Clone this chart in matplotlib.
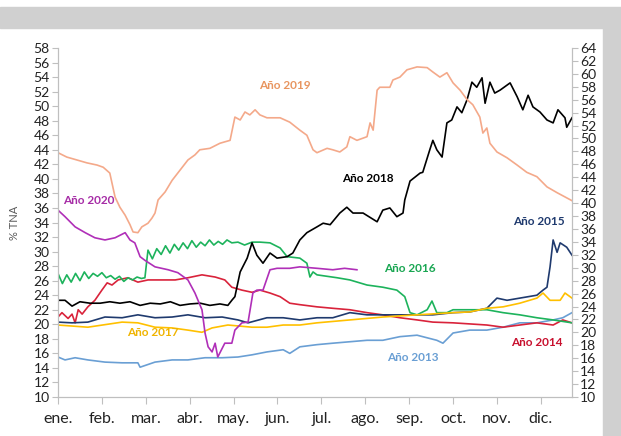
import numpy as np
import matplotlib.pyplot as plt
from matplotlib.patches import Rectangle

plt.rcParams['font.family'] = ['Lato', 'DejaVu Sans']

months = ['ene.', 'feb.', 'mar.', 'abr.', 'may.', 'jun.', 'jul.',
          'ago.', 'sep.', 'oct.', 'nov.', 'dic.']

# x in months since 1 Jan, y in % TNA (read on the left scale)
x13 = [0, 0.16, 0.39, 0.68, 1.07, 1.46, 1.82, 1.87, 2.21, 2.6, 2.96, 3.35, 3.74, 4.1, 4.42, 4.76,
       5.13, 5.28, 5.51, 5.9, 6.26, 6.65, 7.04, 7.4, 7.79, 8.18, 8.63, 8.77, 9.0, 9.38, 9.77,
       10.14, 10.52, 10.91, 11.28, 11.5, 11.71]
y13 = [15.5, 15.1, 15.4, 15.1, 14.8, 14.7, 14.7, 14.1, 14.8, 15.1, 15.1, 15.4, 15.4, 15.5, 15.8, 16.2,
       16.5, 16.0, 16.9, 17.2, 17.4, 17.6, 17.8, 17.8, 18.3, 18.5, 17.8, 17.4, 18.8, 19.2, 19.2,
       19.6, 20.2, 20.2, 20.6, 20.9, 21.6]

x14 = [0, 0.09, 0.23, 0.32, 0.39, 0.46, 0.55, 0.68, 0.84, 1.0, 1.12, 1.23, 1.37, 1.59, 1.82, 2.05,
       2.37, 2.67, 2.96, 3.28, 3.58, 3.8, 3.96, 4.19, 4.42, 4.6, 4.83, 5.06, 5.28, 5.51, 5.9,
       6.26, 6.65, 7.04, 7.4, 7.79, 8.18, 8.54, 9.0, 9.77, 10.14, 10.52, 10.91, 11.28, 11.5, 11.71]
y14 = [21.0, 21.6, 20.8, 21.4, 20.2, 22.0, 21.4, 22.4, 23.3, 24.7, 25.7, 25.4, 26.1, 26.4, 25.8, 26.1,
       26.1, 26.1, 26.4, 26.8, 26.5, 26.1, 25.1, 24.7, 24.4, 24.7, 24.3, 23.8, 22.9, 22.7, 22.4,
       22.2, 22.0, 21.6, 21.3, 20.9, 20.6, 20.3, 20.2, 19.9, 19.6, 19.9, 20.2, 19.9, 20.6, 20.2]

x15 = [0, 0.32, 0.68, 1.07, 1.46, 1.82, 2.21, 2.6, 2.96, 3.35, 3.74, 4.1, 4.33, 4.76, 5.13, 5.51,
       5.9, 6.26, 6.65, 7.04, 7.4, 7.79, 8.18, 8.54, 9.0, 9.38, 9.77, 10.0, 10.23, 10.52, 10.91,
       11.05, 11.14, 11.21, 11.28, 11.37, 11.44, 11.59, 11.71]
y15 = [20.3, 20.2, 20.3, 21.0, 20.9, 21.3, 20.9, 21.0, 21.3, 20.9, 21.0, 20.6, 20.2, 20.9, 20.9, 20.6,
       20.9, 20.9, 21.6, 21.3, 21.3, 21.3, 21.3, 21.3, 21.6, 21.7, 22.2, 23.6, 23.3, 23.6, 24.0,
       24.7, 25.1, 27.9, 31.6, 29.9, 31.2, 30.6, 29.5]

x16 = [0, 0.1, 0.2, 0.3, 0.4, 0.5, 0.6, 0.7, 0.8, 0.9, 1.0, 1.1, 1.2, 1.3, 1.4, 1.5,
       1.6, 1.7, 1.8, 1.9, 1.98, 2.05, 2.15, 2.25, 2.35, 2.45, 2.55, 2.65, 2.75, 2.85, 2.95,
       3.05, 3.15, 3.25, 3.35, 3.45, 3.55, 3.65, 3.75, 3.85, 3.96, 4.1, 4.25, 4.42, 4.6, 4.83,
       5.06, 5.22, 5.51, 5.67, 5.74, 5.81, 5.9, 6.13, 6.36, 6.65, 7.04, 7.4, 7.72, 7.9, 8.02,
       8.18, 8.41, 8.52, 8.63, 8.86, 9.0, 9.38, 9.77, 10.14, 10.52, 10.91, 11.28, 11.71]
y16 = [27.0, 25.6, 26.8, 25.8, 27.0, 26.0, 27.2, 26.3, 27.0, 26.6, 27.1, 26.4, 26.7, 26.2, 26.6, 25.9,
       26.4, 26.1, 26.5, 26.3, 26.4, 30.2, 29.0, 30.4, 29.6, 30.8, 29.8, 31.0, 30.2, 31.2, 30.4,
       31.5, 30.6, 31.3, 30.8, 31.6, 30.9, 31.4, 31.0, 31.6, 31.2, 31.3, 30.9, 31.3, 31.3, 31.2,
       30.5, 29.3, 29.1, 28.4, 26.5, 27.2, 26.8, 26.6, 26.4, 26.1, 25.4, 25.1, 24.7, 23.8, 21.6,
       21.3, 22.0, 23.2, 21.6, 21.6, 22.0, 22.0, 22.0, 21.6, 21.3, 20.9, 20.6, 20.2]

x17 = [0, 0.68, 1.46, 1.82, 2.21, 2.6, 2.96, 3.28, 3.51, 3.87, 4.42, 4.76, 5.13, 5.51, 5.9, 6.65,
       7.4, 8.18, 9.0, 9.38, 9.77, 10.14, 10.52, 10.91, 11.05, 11.21, 11.44, 11.55, 11.71]
y17 = [19.9, 19.6, 20.3, 20.2, 19.6, 19.5, 19.2, 18.9, 19.5, 19.9, 19.6, 19.6, 19.9, 19.9, 20.2, 20.6,
       21.0, 21.3, 21.6, 21.7, 22.2, 22.4, 22.9, 23.6, 24.3, 23.3, 23.3, 24.3, 23.6]

x18 = [0, 0.16, 0.32, 0.5, 0.73, 0.96, 1.18, 1.41, 1.64, 1.87, 2.1, 2.33, 2.56, 2.78, 3.01, 3.24,
       3.46, 3.69, 3.87, 3.96, 4.03, 4.15, 4.31, 4.42, 4.53, 4.67, 4.83, 4.99, 5.22, 5.35, 5.51,
       5.67, 5.9, 6.04, 6.2, 6.42, 6.58, 6.72, 6.95, 7.27, 7.4, 7.56, 7.72, 7.86, 7.9, 8.02,
       8.25, 8.31, 8.47, 8.54, 8.63, 8.75, 8.86, 8.97, 9.09, 9.2, 9.32, 9.43, 9.54, 9.66, 9.73,
       9.84, 9.95, 10.07, 10.3, 10.46, 10.59, 10.71, 10.82, 10.98, 11.14, 11.28, 11.39, 11.55,
       11.59, 11.71]
y18 = [23.3, 23.3, 22.5, 23.1, 22.9, 22.9, 23.1, 22.9, 23.1, 22.6, 22.9, 22.8, 23.1, 22.6, 22.8, 22.9,
       22.6, 22.8, 22.6, 23.3, 23.8, 27.2, 29.1, 31.2, 29.5, 28.4, 29.8, 29.1, 29.3, 29.8, 31.6,
       32.6, 33.4, 33.9, 33.7, 35.3, 36.1, 35.3, 35.3, 34.1, 35.7, 36.0, 34.8, 35.3, 37.1, 39.7,
       40.8, 40.9, 44.0, 45.3, 44.0, 43.0, 47.7, 48.1, 49.9, 49.1, 50.9, 53.3, 52.6, 53.9, 50.4,
       53.3, 51.8, 52.2, 53.2, 51.3, 49.5, 51.5, 49.9, 49.2, 48.1, 47.7, 49.5, 48.4,
       47.1, 48.4]

x19 = [0, 0.2, 0.43, 0.66, 0.89, 1.03, 1.18, 1.3, 1.41, 1.53, 1.64, 1.71, 1.82, 1.91, 2.05, 2.14,
       2.21, 2.28, 2.44, 2.6, 2.78, 2.96, 3.12, 3.23, 3.46, 3.69, 3.92, 4.03, 4.15, 4.26, 4.37,
       4.49, 4.6, 4.76, 5.06, 5.28, 5.51, 5.67, 5.81, 5.9, 6.13, 6.26, 6.42, 6.58, 6.65, 6.81,
       7.04, 7.11, 7.18, 7.27, 7.33, 7.56, 7.63, 7.79, 7.95, 8.18, 8.41, 8.54, 8.7, 8.86, 9.0,
       9.16, 9.32, 9.45, 9.61, 9.68, 9.77, 9.84, 10.0, 10.23, 10.46, 10.68, 10.91, 11.14, 11.37,
       11.71]
y19 = [43.6, 43.0, 42.6, 42.2, 41.9, 41.6, 40.8, 37.5, 36.1, 35.0, 33.7, 32.7, 32.6, 33.4, 33.9, 34.6,
       35.3, 37.1, 38.2, 39.8, 41.2, 42.6, 43.3, 44.0, 44.2, 44.9, 45.3, 48.5, 48.1, 49.2, 48.8,
       49.5, 48.8, 48.4, 48.4, 47.8, 46.7, 46.0, 44.0, 43.6, 44.2, 44.0, 43.7, 44.4, 45.8, 45.3,
       45.8, 47.7, 46.7, 52.2, 52.6, 52.6, 53.6, 54.0, 55.0, 55.4, 55.3, 54.7, 54.0, 54.6, 53.2,
       52.2, 50.9, 50.2, 48.5, 46.3, 47.0, 44.9, 43.7, 42.9, 41.9, 40.9, 40.3, 38.9, 38.1,
       37.0]

x20 = [0, 0.16, 0.39, 0.62, 0.84, 1.07, 1.3, 1.53, 1.64, 1.75, 1.87, 1.98, 2.21, 2.51, 2.73, 2.96,
       3.12, 3.28, 3.35, 3.42, 3.51, 3.58, 3.64, 3.8, 3.96, 4.03, 4.19, 4.33, 4.44, 4.53, 4.67,
       4.83, 4.99, 5.28, 5.51, 5.9, 6.26, 6.53, 6.81]
y20 = [35.7, 34.8, 33.4, 32.6, 31.9, 31.6, 31.9, 32.6, 31.6, 31.2, 29.3, 28.8, 27.9, 27.5, 27.1, 26.1,
       24.3, 22.0, 18.8, 16.9, 16.2, 17.4, 15.5, 17.4, 17.4, 19.2, 20.2, 20.3, 24.3, 24.7, 24.7,
       27.5, 27.7, 27.7, 27.9, 27.7, 27.5, 27.7, 27.5]

series = [
    (x13, y13, '#6a9fd4', 'Año 2013', 8.09, 15.5, '#6a9fd4'),
    (x14, y14, '#d9233b', 'Año 2014', 10.91, 17.56, '#c8102e'),
    (x15, y15, '#1f3a6e', 'Año 2015', 10.96, 34.1, '#1f3a6e'),
    (x16, y16, '#1db35c', 'Año 2016', 8.02, 27.7, '#19a652'),
    (x17, y17, '#ffc000', 'Año 2017', 2.16, 18.85, '#f0b400'),
    (x18, y18, '#000000', 'Año 2018', 7.06, 40.1, '#000000'),
    (x19, y19, '#f4a98a', 'Año 2019', 5.17, 52.8, '#e8955f'),
    (x20, y20, '#b02fb8', 'Año 2020', 0.71, 37.0, '#a62ca6'),
]

fig = plt.figure(figsize=(6.21, 4.36), dpi=100)
fig.patches.append(Rectangle((0, 1 - 28 / 436), 1, 21 / 436, transform=fig.transFigure,
                             color='#d0d0d0', zorder=0))
fig.patches.append(Rectangle((603 / 621, 0), 18 / 621, 1 - 28 / 436, transform=fig.transFigure,
                             color='#d0d0d0', zorder=0))

ax = fig.add_axes([58 / 621, 1 - 397 / 436, 514 / 621, 349 / 436])
ax.patch.set_alpha(0)

for xs, ys, col, lab, lx, ly, tcol in series:
    ax.plot(xs, ys, color=col, lw=1.2)
    ax.text(lx, ly, lab, color=tcol, fontsize=8.5, fontweight='bold', ha='center', va='center')

ax.set_xlim(0, 11.71)
ax.set_ylim(10, 58)
ax.set_yticks(np.arange(10, 59, 2))
ax.set_xticks(range(12))
ax.set_xticklabels(months, fontsize=11.5, color='#222222')
ax.tick_params(axis='y', labelsize=10, colors='#222222', length=4, color='#bfbfbf', pad=2)
ax.tick_params(axis='x', length=5, color='#bfbfbf', pad=6)
ax.set_ylabel('% TNA', fontsize=8, color='#595959', labelpad=10)
for s in ['left', 'right', 'bottom']:
    ax.spines[s].set_color('#bfbfbf')
ax.spines['top'].set_visible(False)

ax2 = ax.twinx()
ax2.set_ylim(10, 64)
ax2.set_yticks(np.arange(10, 65, 2))
ax2.tick_params(axis='y', labelsize=10, colors='#222222', length=4, color='#bfbfbf', pad=2)
for s in ['left', 'right', 'bottom']:
    ax2.spines[s].set_color('#bfbfbf')
ax2.spines['top'].set_visible(False)

fig.savefig('out.png', dpi=100)
